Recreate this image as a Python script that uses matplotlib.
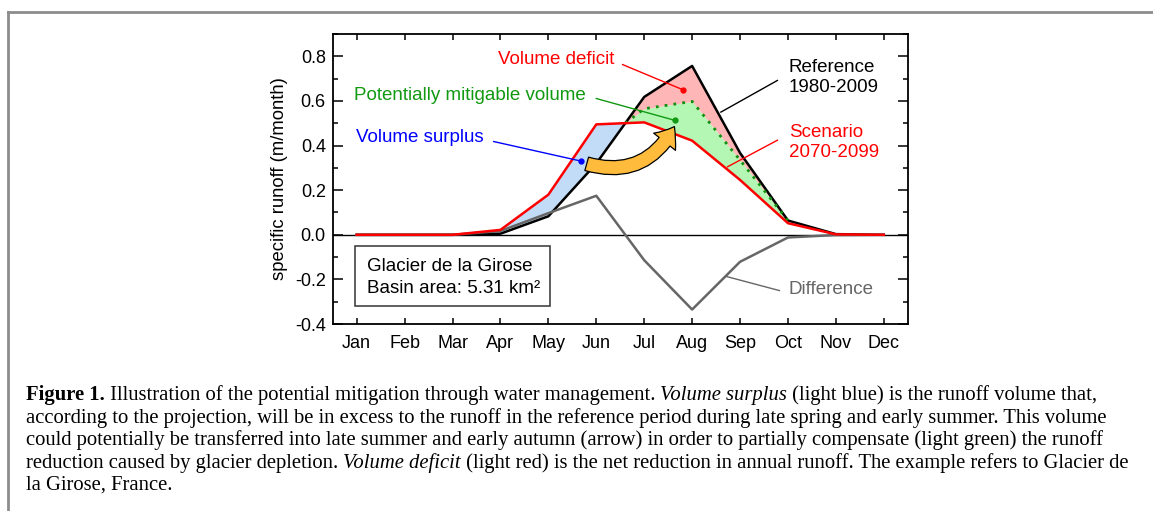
import numpy as np
import matplotlib
matplotlib.use("Agg")
import matplotlib.pyplot as plt
from matplotlib.patches import FancyArrowPatch, Rectangle
from matplotlib.lines import Line2D
from matplotlib.transforms import IdentityTransform

# monthly specific runoff (m/month)
months = ["Jan", "Feb", "Mar", "Apr", "May", "Jun",
          "Jul", "Aug", "Sep", "Oct", "Nov", "Dec"]
reference = [0.0, 0.0, 0.0, 0.005, 0.083, 0.32, 0.618, 0.757, 0.367, 0.064, 0.003, 0.0]
scenario = [0.0, 0.0, 0.0, 0.022, 0.18, 0.495, 0.504, 0.422, 0.246, 0.052, 0.002, 0.0]
difference = [0.0, 0.0, 0.0, 0.017, 0.097, 0.175, -0.114, -0.335, -0.121, -0.012, -0.001, 0.0]
# upper bound of the mitigable volume (dotted green), Jul..Oct
mitigable = [np.nan] * 6 + [0.565, 0.598, 0.335, 0.064, np.nan, np.nan]

yticks = [-0.4, -0.2, 0.0, 0.2, 0.4, 0.6, 0.8]

RED = "#ff0000"
GREY = "#666666"
GREEN_TXT = "#119911"
BLUE_FILL = "#c2dcf7"
RED_FILL = "#ffb6b6"
GREEN_FILL = "#b4f7b4"

plt.rcParams["font.family"] = ["Liberation Sans", "DejaVu Sans"]
plt.rcParams["axes.unicode_minus"] = False

fig = plt.figure(figsize=(11.53, 5.11), dpi=100)
ax = fig.add_axes([0.2886, 0.3659, 0.4987, 0.5675])

x = np.arange(len(months))
ref = np.asarray(reference)
scen = np.asarray(scenario)
mit = np.asarray(mitigable)

# where scenario and reference cross between Jun and Jul
d = scen - ref
t = d[5] / (d[5] - d[6])
xc = 5 + t
yc = ref[5] + t * (ref[6] - ref[5])

xm = np.r_[xc, x[6:10]]
mit_m = np.r_[yc, mit[6:10]]
scen_m = np.interp(xm, x, scen)
ref_m = np.interp(xm, x, ref)

ax.fill_between(x, ref, scen, where=scen >= ref, interpolate=True,
                color=BLUE_FILL, lw=0, zorder=1)
ax.fill_between(xm, scen_m, mit_m, color=GREEN_FILL, lw=0, zorder=1)
ax.fill_between(xm, mit_m, ref_m, color=RED_FILL, lw=0, zorder=1)

ax.axhline(0, color="black", lw=1, zorder=2)
ax.plot(x, reference, color="black", lw=1.8, zorder=3)
ax.plot(x, difference, color=GREY, lw=1.8, zorder=4)
ax.plot(xm, mit_m, color="#109010", lw=2, ls=(0, (1, 2.2)), zorder=4)
ax.plot(x, scenario, color=RED, lw=1.8, zorder=5)

ax.set_xlim(-0.5, 11.5)
ax.set_ylim(-0.4, 0.9)
ax.set_xticks(x)
ax.set_xticklabels(months)
ax.set_yticks(yticks)
ax.set_yticklabels([f"{v:.1f}" for v in yticks])
ax.set_yticks(np.arange(-0.4, 0.91, 0.1), minor=True)
ax.tick_params(axis="both", direction="in", top=True, right=True,
               labelsize=13, width=1.1, colors="black")
ax.tick_params(axis="y", which="major", length=7.5, pad=5)
ax.tick_params(axis="y", which="minor", length=3.8, width=1.1,
               direction="in", right=True)
ax.tick_params(axis="x", which="major", length=4, pad=8)
for sp in ax.spines.values():
    sp.set_linewidth(1.3)
ax.set_ylabel("specific runoff (m/month)", fontsize=13.3, labelpad=5)

fs = 13.5
# leader lines with dots
def leader(x0, y0, x1, y1, color, dot=True):
    ax.plot([x0, x1], [y0, y1], color=color, lw=1, zorder=6)
    if dot:
        ax.plot([x1], [y1], "o", color=color, ms=3.5, zorder=6)

ax.text(2.94, 0.785, "Volume deficit", color=RED, fontsize=fs,
        ha="left", va="center", zorder=7)
leader(5.55, 0.763, 6.81, 0.650, RED)

ax.text(-0.06, 0.625, "Potentially mitigable volume", color=GREEN_TXT,
        fontsize=fs, ha="left", va="center", zorder=7)
leader(5.0, 0.611, 6.64, 0.513, "#119911")

ax.text(-0.02, 0.437, "Volume surplus", color="#0000ff", fontsize=fs,
        ha="left", va="center", zorder=7)
leader(2.86, 0.418, 4.69, 0.330, "#0000ff")

ax.text(9.02, 0.705, "Reference\n1980-2009", color="black", fontsize=fs,
        ha="left", va="center", linespacing=1.2, zorder=7)
leader(8.78, 0.692, 7.60, 0.55, "black", dot=False)

ax.text(9.02, 0.415, "Scenario\n2070-2099", color=RED, fontsize=fs,
        ha="left", va="center", linespacing=1.2, zorder=7)
leader(8.78, 0.424, 7.74, 0.305, RED, dot=False)

ax.text(9.02, -0.245, "Difference", color=GREY, fontsize=fs,
        ha="left", va="center", zorder=7)
leader(8.82, -0.25, 7.70, -0.186, GREY, dot=False)

# info box
ax.add_patch(Rectangle((-0.04, -0.32), 4.07, 0.271, fill=False,
                       ec="#333333", lw=1.1, zorder=7))
ax.text(0.21, -0.141, "Glacier de la Girose", fontsize=fs, ha="left",
        va="center", zorder=7)
ax.text(0.21, -0.241, "Basin area: 5.31 km²", fontsize=fs, ha="left",
        va="center", zorder=7)

# transfer arrow
arrow = FancyArrowPatch((4.8, 0.318), (6.63, 0.485),
                        connectionstyle="arc3,rad=0.40",
                        arrowstyle="simple,tail_width=10,head_width=20,head_length=13",
                        mutation_scale=1, fc="#ffbb3c", ec="black", lw=0.9,
                        zorder=8, shrinkA=0, shrinkB=0)
ax.add_patch(arrow)

# page frame
fig.add_artist(Line2D([8 / 1153, 8 / 1153], [0, 1 - 12 / 511],
                      transform=fig.transFigure, color="#8c8c8c", lw=2))
fig.add_artist(Line2D([8 / 1153, 1], [1 - 12 / 511, 1 - 12 / 511],
                      transform=fig.transFigure, color="#8c8c8c", lw=2))

# caption, drawn piece by piece so bold/italic can sit inline
caption = [
    [("Figure 1.", "bold"),
     (" Illustration of the potential mitigation through water management. ", "normal"),
     ("Volume surplus", "italic"),
     (" (light blue) is the runoff volume that,", "normal")],
    [("according to the projection, will be in excess to the runoff in the reference "
      "period during late spring and early summer. This volume", "normal")],
    [("could potentially be transferred into late summer and early autumn (arrow) in "
      "order to partially compensate (light green) the runoff", "normal")],
    [("reduction caused by glacier depletion. ", "normal"),
     ("Volume deficit", "italic"),
     (" (light red) is the net reduction in annual runoff. The example refers to "
      "Glacier de", "normal")],
    [("la Girose, France.", "normal")],
]

renderer = fig.canvas.get_renderer()
cap_fs = 14.9
y_pix = 511 - 400
for line in caption:
    x_pix = 26
    for text, style in line:
        kw = dict(fontsize=cap_fs, family=["Liberation Serif", "DejaVu Serif"],
                  va="baseline", ha="left", transform=IdentityTransform())
        if style == "bold":
            kw["fontweight"] = "bold"
        elif style == "italic":
            kw["fontstyle"] = "italic"
        t_art = fig.text(x_pix, y_pix, text, **kw)
        x_pix = t_art.get_window_extent(renderer).x1
    y_pix -= 22.5

fig.savefig("out.png", dpi=100)
